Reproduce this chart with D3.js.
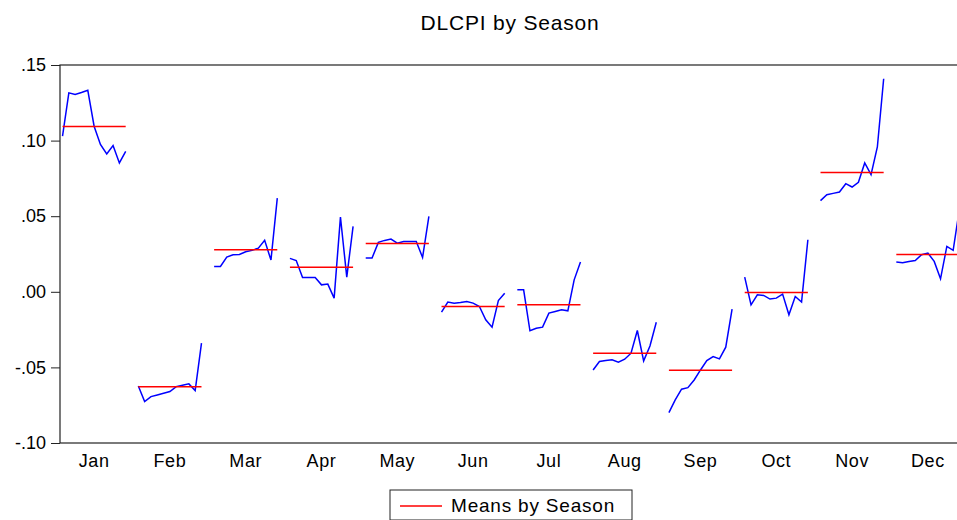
<!DOCTYPE html>
<html>
<head>
<meta charset="utf-8">
<script src="https://d3js.org/d3.v7.min.js"></script>
<style>
  body { margin: 0; background: #fff; }
  text { font-family: "Liberation Sans", Arial, sans-serif; }
</style>
</head>
<body>
<div id="my_dataviz"></div>
<script>

// month labels on the x axis
var months = ["Jan", "Feb", "Mar", "Apr", "May", "Jun", "Jul", "Aug", "Sep", "Oct", "Nov", "Dec"];

// DLCPI values, one point per year, grouped by season
var jan = [0.1029, 0.1316, 0.1305, 0.1318, 0.1333, 0.1095, 0.0974, 0.0912, 0.0967, 0.0852, 0.0929];
var feb = [-0.0623, -0.0726, -0.0693, -0.0682, -0.0671, -0.0660, -0.0627, -0.0618, -0.0609, -0.0653, -0.0340];
var mar = [0.0168, 0.0168, 0.0230, 0.0245, 0.0247, 0.0265, 0.0274, 0.0289, 0.0340, 0.0210, 0.0620];
var apr = [0.0221, 0.0207, 0.0095, 0.0095, 0.0095, 0.0046, 0.0051, -0.0042, 0.0495, 0.0097, 0.0433];
var may = [0.0223, 0.0223, 0.0327, 0.0340, 0.0349, 0.0322, 0.0333, 0.0333, 0.0333, 0.0227, 0.0499];
var jun = [-0.0135, -0.0068, -0.0075, -0.0071, -0.0064, -0.0075, -0.0097, -0.0185, -0.0234, -0.0058, -0.0009];
var jul = [0.0013, 0.0013, -0.0258, -0.0241, -0.0234, -0.0141, -0.0130, -0.0119, -0.0126, 0.0079, 0.0197];
var aug = [-0.0517, -0.0461, -0.0455, -0.0450, -0.0466, -0.0446, -0.0406, -0.0256, -0.0457, -0.0358, -0.0201];
var sep = [-0.0799, -0.0715, -0.0644, -0.0634, -0.0583, -0.0517, -0.0455, -0.0428, -0.0444, -0.0366, -0.0115];
var oct = [0.0097, -0.0086, -0.0020, -0.0024, -0.0048, -0.0042, -0.0015, -0.0152, -0.0031, -0.0068, 0.0344];
var nov = [0.0603, 0.0642, 0.0651, 0.0660, 0.0715, 0.0693, 0.0724, 0.0852, 0.0775, 0.0958, 0.1409];
var dec = [0.0197, 0.0192, 0.0201, 0.0207, 0.0245, 0.0256, 0.0201, 0.0086, 0.0300, 0.0274, 0.0550];

var seasons = [jan, feb, mar, apr, may, jun, jul, aug, sep, oct, nov, dec];

// y axis ticks
var yTicks = [0.15, 0.10, 0.05, 0.00, -0.05, -0.10];
var yTickLabels = [".15", ".10", ".05", ".00", "-.05", "-.10"];

var nYears = jan.length;
var slot = nYears + 1;   // one empty slot between seasons

// set the dimensions and margins of the graph
var margin = {top: 65, right: -5, bottom: 77, left: 60},
    width = 957 - margin.left - margin.right,
    height = 520 - margin.top - margin.bottom;

var svg = d3.select("#my_dataviz")
  .append("svg")
    .attr("width", 957)
    .attr("height", 520)
  .append("g")
    .attr("transform", "translate(" + margin.left + "," + margin.top + ")");

// x: observation index, y: value
var x = d3.scaleLinear()
  .domain([-0.4, months.length * slot - 1.6])
  .range([0, width]);

var y = d3.scaleLinear()
  .domain([-0.10, 0.15])
  .range([height, 0]);

// frame
svg.append("rect")
  .attr("x", 0)
  .attr("y", 0)
  .attr("width", width)
  .attr("height", height)
  .style("fill", "none")
  .style("stroke", "#222")
  .style("stroke-width", 1.2);

// left axis
var yAxis = svg.append("g")
  .call(d3.axisLeft(y)
    .tickValues(yTicks)
    .tickSize(9)
    .tickPadding(5)
    .tickFormat(function(d, i) { return yTickLabels[i]; }));
yAxis.select(".domain").remove();
yAxis.selectAll("line").style("stroke", "#222");
yAxis.selectAll("text")
  .style("font-size", "18px")
  .style("fill", "#000");

// month labels
svg.selectAll(".month")
  .data(months)
  .enter()
  .append("text")
    .attr("class", "month")
    .attr("x", function(d, i) { return x(i * slot + (nYears - 1) / 2); })
    .attr("y", height + 24)
    .style("text-anchor", "middle")
    .style("font-size", "18px")
    .style("letter-spacing", "0.6px")
    .text(function(d) { return d; });

var line = d3.line()
  .x(function(d) { return x(d.i); })
  .y(function(d) { return y(d.v); });

// one blue line per season plus its red mean
seasons.forEach(function(vals, m) {
  var pts = vals.map(function(v, k) { return {i: m * slot + k, v: v}; });
  var mean = d3.mean(vals);

  svg.append("path")
    .datum(pts)
    .attr("d", line)
    .style("fill", "none")
    .style("stroke", "#0000ff")
    .style("stroke-width", 1.5);

  svg.append("line")
    .attr("x1", x(m * slot))
    .attr("x2", x(m * slot + nYears - 1))
    .attr("y1", y(mean))
    .attr("y2", y(mean))
    .style("stroke", "#ff0000")
    .style("stroke-width", 1.5);
});

// title
svg.append("text")
  .attr("x", width / 2 - 1)
  .attr("y", -35)
  .style("text-anchor", "middle")
  .style("font-size", "21px")
  .style("letter-spacing", "0.8px")
  .text("DLCPI by Season");

// legend
var legend = svg.append("g")
  .attr("transform", "translate(330," + (height + 47) + ")");

legend.append("rect")
  .attr("width", 242)
  .attr("height", 30)
  .style("fill", "#fff")
  .style("stroke", "#222")
  .style("stroke-width", 1);

legend.append("line")
  .attr("x1", 10)
  .attr("x2", 52)
  .attr("y1", 16)
  .attr("y2", 16)
  .style("stroke", "#ff0000")
  .style("stroke-width", 1.5);

legend.append("text")
  .attr("x", 61)
  .attr("y", 22)
  .style("font-size", "19px")
  .style("letter-spacing", "0.8px")
  .text("Means by Season");

</script>
</body>
</html>
